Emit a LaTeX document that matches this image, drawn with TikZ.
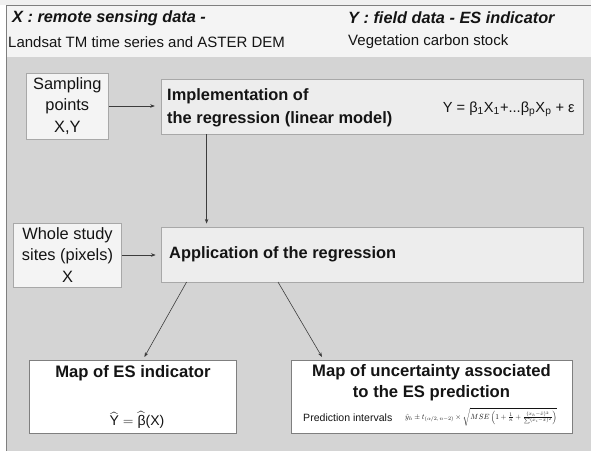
\documentclass[tikz,border=0pt]{standalone}
\usepackage{amsmath,amssymb}
\usepackage{graphicx}
\usepackage{fontspec}
\setmainfont{Liberation Sans}
\usepackage{tikz}
\usetikzlibrary{arrows.meta}
\definecolor{top}{HTML}{F0F0F0}
\definecolor{panel}{HTML}{F4F4F4}
\definecolor{back}{HTML}{D4D4D4}
\definecolor{boxfill}{HTML}{EDEDED}
\definecolor{boxline}{HTML}{A8A8A8}
\definecolor{frame}{HTML}{7F7F7F}
\definecolor{ink}{HTML}{141414}
\definecolor{wire}{HTML}{3C3C3C}
\tikzset{
  inbox/.style={draw=boxline, fill=panel, line width=0.6pt, inner sep=0pt, align=center,
    text=ink, font=\fontsize{14}{18.3}\selectfont},
  stepbox/.style={draw=boxline, fill=boxfill, line width=0.6pt, inner sep=0pt,
    minimum width=12.675cm, minimum height=1.65cm},
  outbox/.style={draw=frame, fill=white, line width=0.7pt, inner sep=0pt, minimum height=2.19cm},
  wire/.style={draw=wire, line width=0.5pt, -{Stealth[length=4pt,width=3pt]}},
  head/.style={text=ink, font=\fontsize{13.9}{16}\selectfont\bfseries\itshape, anchor=west, inner sep=0pt},
  sub/.style={text=ink, font=\fontsize{12.8}{15}\selectfont, anchor=west, inner sep=0pt},
  labb/.style={text=ink, font=\fontsize{14}{19.3}\selectfont\bfseries, align=left, anchor=west, inner sep=0pt},
  title/.style={text=ink, font=\fontsize{14.2}{18}\selectfont\bfseries, align=center, inner sep=0pt},
  eq/.style={text=ink, inner sep=0pt},
}

\begin{document}
\begin{tikzpicture}[x=0.03cm, y=-0.03cm]
  \useasboundingbox (0,0) rectangle (591,451);

  % panels
  \fill[top] (0,0) rectangle (591,5);
  \fill[panel] (6,5) rectangle (591,57);
  \fill[back] (6,57) rectangle (591,451);
  \draw[frame, line width=0.6pt] (591,5) -- (6,5) -- (6,451);

  % header
  \node[head] (xhead) at (12,18) {X : remote sensing data -};
  \node[sub]  (xsub)  at (8,42) {Landsat TM time series and ASTER DEM};
  \node[head] (yhead) at (348,18) {Y : field data - ES indicator};
  \node[sub]  (ysub)  at (348,42) {Vegetation carbon stock};

  % inputs and regression steps
  \node[inbox, minimum width=2.475cm, minimum height=1.98cm] (samp) at (67.3,106) {Sampling\\points\\X,Y};
  \node[stepbox] (impl) at (372.3,106.5) {};
  \node[labb] (impltxt) at (167,108) {Implementation of\\the regression (linear model)};
  \node[eq, anchor=east, font=\fontsize{12.5}{14}\selectfont] (model) at (575,109)
    {Y = β\textsubscript{1}X\textsubscript{1}+...β\textsubscript{p}X\textsubscript{p} + ε};

  \node[inbox, minimum width=3.234cm, minimum height=1.92cm] (whole) at (67.5,255) {Whole study\\sites (pixels)\\X};
  \node[stepbox] (app) at (372.3,254.5) {};
  \node[labb] (apptxt) at (169,254) {Application of the regression};

  % outputs
  \node[outbox, minimum width=6.231cm] (mapes) at (132.9,396.5) {};
  \node[title] (mapestxt) at (132.9,373) {Map of ES indicator};
  \node[eq, font=\fontsize{12}{14}\selectfont] (pred) at (137,420)
    {$\widehat{\text{Y}} = \widehat{\text{β}}\text{(X)}$};

  \node[outbox, minimum width=8.43cm] (mapunc) at (431.5,396.5) {};
  \node[title] (mapunctxt) at (431.5,383) {Map of uncertainty associated\\to the ES prediction};
  \node[eq, anchor=west, font=\fontsize{9}{11}\selectfont] (pi) at (303,418) {Prediction intervals};
  \node[eq, anchor=west] (piform) at (405,417)
    {\resizebox{4.55cm}{!}{$\hat{y}_h \pm t_{(\alpha/2,\,n-2)} \times \sqrt{MSE\left(1+\frac{1}{n}+\frac{(x_h-\bar{x})^2}{\sum(x_i-\bar{x})^2}\right)}$}};

  % connectors
  \coordinate (down) at (206.6,134);
  \coordinate (l1) at (186.6,282);
  \coordinate (l2) at (144.4,357);
  \coordinate (r1) at (278,282);
  \coordinate (r2) at (322,357);
  \draw[wire, shorten >=5pt] (samp.east) -- (samp.east -| impl.west);
  \draw[wire, shorten >=4.3pt] (whole.east) -- (whole.east -| app.west);
  \draw[wire, shorten >=2.6pt] (down) -- (down |- app.north);
  \draw[wire] (l1) -- (l2);
  \draw[wire] (r1) -- (r2);
\end{tikzpicture}
\end{document}
